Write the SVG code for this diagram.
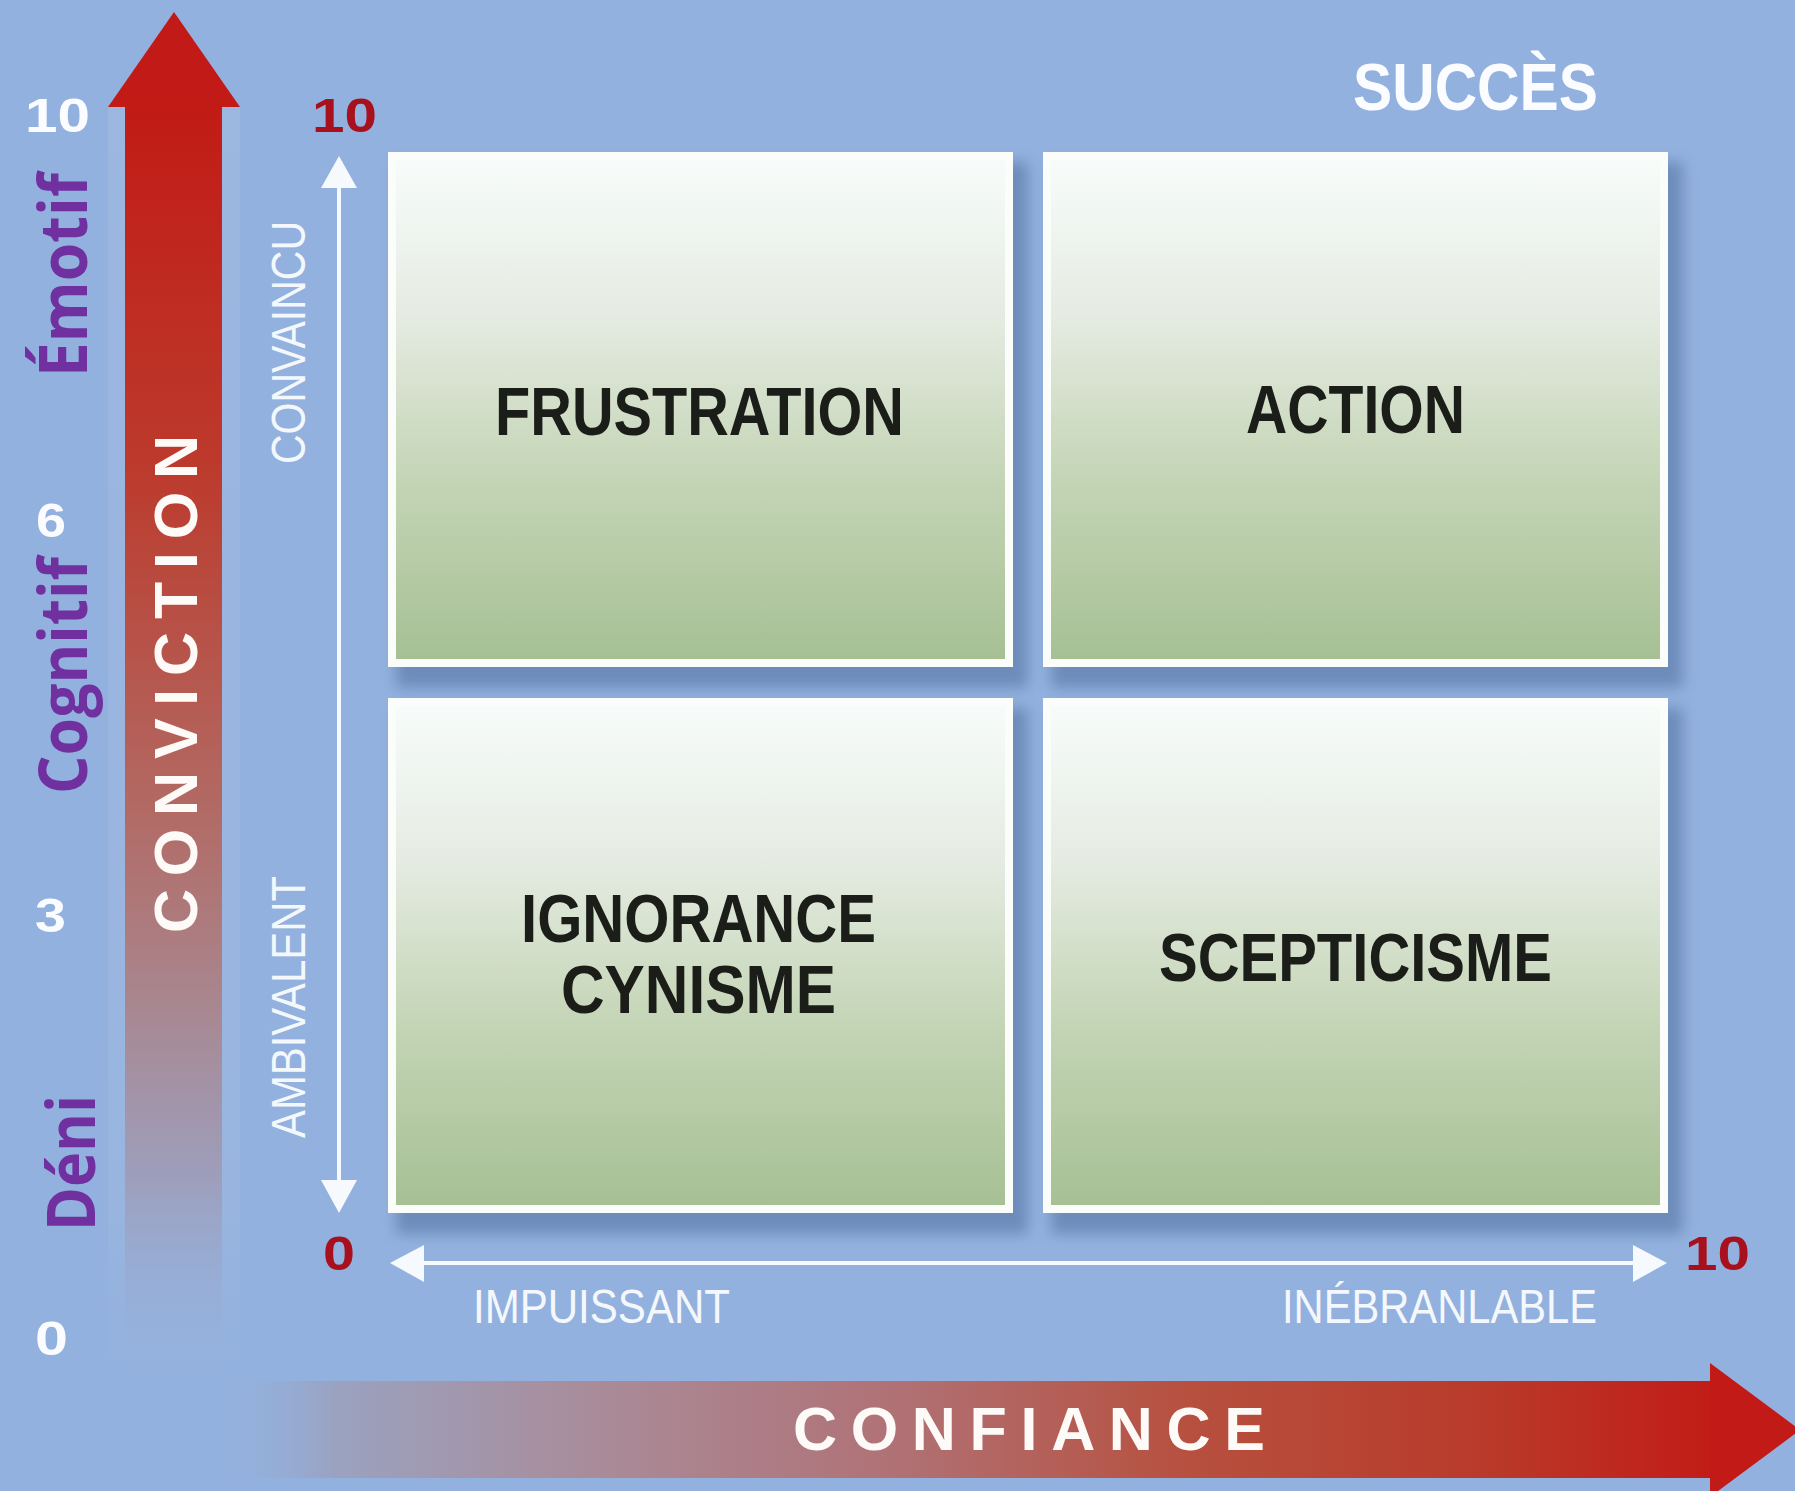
<svg xmlns="http://www.w3.org/2000/svg" width="1795" height="1491" viewBox="0 0 1795 1491">
  <defs>
    <linearGradient id="boxFill" x1="0" y1="0" x2="0" y2="1">
      <stop offset="0" stop-color="#f7fcfa"/>
      <stop offset="0.3" stop-color="#e6ece3"/>
      <stop offset="0.62" stop-color="#c6d6b8"/>
      <stop offset="1" stop-color="#a6c094"/>
    </linearGradient>
    <linearGradient id="vShaft" gradientUnits="userSpaceOnUse" x1="0" y1="107" x2="0" y2="1385">
      <stop offset="0" stop-color="#c21b16"/>
      <stop offset="0.28" stop-color="#bc3a2c"/>
      <stop offset="0.55" stop-color="#b26a64"/>
      <stop offset="0.7" stop-color="#a9868f"/>
      <stop offset="0.84" stop-color="#9e9cb8" stop-opacity="0.9"/>
      <stop offset="1" stop-color="#93b1de" stop-opacity="0"/>
    </linearGradient>
    <linearGradient id="vGlow" gradientUnits="userSpaceOnUse" x1="0" y1="107" x2="0" y2="1385">
      <stop offset="0" stop-color="#ffffff" stop-opacity="0.08"/>
      <stop offset="0.85" stop-color="#ffffff" stop-opacity="0.05"/>
      <stop offset="1" stop-color="#ffffff" stop-opacity="0"/>
    </linearGradient>
    <linearGradient id="hShaft" gradientUnits="userSpaceOnUse" x1="215" y1="0" x2="1712" y2="0">
      <stop offset="0" stop-color="#93b1de" stop-opacity="0"/>
      <stop offset="0.08" stop-color="#9aa2c0"/>
      <stop offset="0.25" stop-color="#a98c9a"/>
      <stop offset="0.45" stop-color="#b07276"/>
      <stop offset="0.65" stop-color="#b7503f"/>
      <stop offset="0.85" stop-color="#b93a2a"/>
      <stop offset="1" stop-color="#c21c17"/>
    </linearGradient>
    <filter id="shadow" x="-10%" y="-10%" width="130%" height="130%">
      <feGaussianBlur stdDeviation="7"/>
    </filter>
  </defs>
  <style>
    .bg { fill: #93b1de; }
    .frame { fill: #fbfdfb; }
    .inner { fill: url(#boxFill); }
    .shade { fill: #4f6e9e; opacity: 0.55; filter: url(#shadow); }
    .quad { font-family: "Liberation Sans", Arial, sans-serif; font-weight: 700; font-size: 68px; fill: #1b1d18; }
    .num { font-family: "Liberation Sans", Arial, sans-serif; font-weight: 700; font-size: 49px; }
    .numw { fill: #fafcff; }
    .numr { fill: #a8101e; }
    .axis { font-family: "Liberation Sans", Arial, sans-serif; font-weight: 700; font-size: 61px; fill: #fdfaf8; }
    .pole { font-family: "Liberation Sans", Arial, sans-serif; font-weight: 400; font-size: 49px; fill: #f4f8fd; }
    .level { font-family: "Open Sans", "Noto Sans", sans-serif; font-weight: 700; font-size: 66px; fill: #7030a0; }
    .wline { stroke: #f6f9fd; stroke-width: 4; fill: none; }
    .whead { fill: #f6f9fd; }
  </style>

  <rect class="bg" x="0" y="0" width="1795" height="1491"/>

  <!-- Big axes -->
  <g id="axis-conviction">
    <rect x="108" y="107" width="132" height="1280" fill="url(#vGlow)"/>
    <rect x="125" y="105" width="97" height="1280" fill="url(#vShaft)"/>
    <polygon points="174,12 240,107 108,107" fill="#c21a17"/>
    <text class="axis" transform="translate(197,933) rotate(-90)" textLength="498" lengthAdjust="spacing">CONVICTION</text>
  </g>
  <g id="axis-confiance">
    <rect x="215" y="1381" width="1497" height="97" fill="url(#hShaft)"/>
    <polygon points="1710,1363 1800,1430 1710,1497" fill="#c21a17"/>
    <text class="axis" x="793" y="1450" textLength="472" lengthAdjust="spacing">CONFIANCE</text>
  </g>

  <!-- Scale labels -->
  <g id="scale-left">
    <text class="num numw" x="25" y="132" textLength="65" lengthAdjust="spacingAndGlyphs">10</text>
    <text class="num numw" x="36" y="537" textLength="30" lengthAdjust="spacingAndGlyphs">6</text>
    <text class="num numw" x="35" y="932" textLength="31" lengthAdjust="spacingAndGlyphs">3</text>
    <text class="num numw" x="35" y="1355" textLength="33" lengthAdjust="spacingAndGlyphs">0</text>
  </g>
  <g id="levels">
    <text class="level" transform="translate(87,377) rotate(-90)" textLength="204" lengthAdjust="spacingAndGlyphs">Émotif</text>
    <text class="level" transform="translate(87,794) rotate(-90)" textLength="237" lengthAdjust="spacingAndGlyphs">Cognitif</text>
    <text class="level" transform="translate(95,1231) rotate(-90)" textLength="136" lengthAdjust="spacingAndGlyphs">Déni</text>
  </g>

  <!-- Inner axes (connectors) -->
  <g id="connectors">
    <line class="wline" x1="339" y1="185" x2="339" y2="1182"/>
    <polygon class="whead" points="339,156 357,188 321,188"/>
    <polygon class="whead" points="339,1213 357,1180 321,1180"/>
    <line class="wline" x1="420" y1="1263" x2="1636" y2="1263"/>
    <polygon class="whead" points="390,1263 424,1245 424,1282"/>
    <polygon class="whead" points="1667,1263 1633,1245 1633,1282"/>
  </g>
  <g id="inner-scale">
    <text class="num numr" x="312" y="132" textLength="65" lengthAdjust="spacingAndGlyphs">10</text>
    <text class="num numr" x="323" y="1270" textLength="32" lengthAdjust="spacingAndGlyphs">0</text>
    <text class="num numr" x="1685" y="1270" textLength="65" lengthAdjust="spacingAndGlyphs">10</text>
    <text class="pole" transform="translate(305,464) rotate(-90)" textLength="243" lengthAdjust="spacingAndGlyphs">CONVAINCU</text>
    <text class="pole" transform="translate(305,1138) rotate(-90)" textLength="262" lengthAdjust="spacingAndGlyphs">AMBIVALENT</text>
    <text class="pole" x="473" y="1323" textLength="257" lengthAdjust="spacingAndGlyphs">IMPUISSANT</text>
    <text class="pole" x="1282" y="1323" textLength="315" lengthAdjust="spacingAndGlyphs">INÉBRANLABLE</text>
    <text class="num numw" x="1353" y="110" style="font-size:66px" textLength="245" lengthAdjust="spacingAndGlyphs">SUCCÈS</text>
  </g>

  <!-- Quadrants -->
  <g id="frustration">
    <rect class="shade" x="396" y="162" width="632" height="526"/>
    <rect class="frame" x="388" y="152" width="625" height="515"/>
    <rect class="inner" x="396" y="160" width="609" height="499"/>
    <text class="quad" x="495" y="435" textLength="409" lengthAdjust="spacingAndGlyphs">FRUSTRATION</text>
  </g>
  <g id="action">
    <rect class="shade" x="1051" y="162" width="632" height="526"/>
    <rect class="frame" x="1043" y="152" width="625" height="515"/>
    <rect class="inner" x="1051" y="160" width="609" height="499"/>
    <text class="quad" x="1246" y="433" textLength="219" lengthAdjust="spacingAndGlyphs">ACTION</text>
  </g>
  <g id="ignorance-cynisme">
    <rect class="shade" x="396" y="708" width="632" height="526"/>
    <rect class="frame" x="388" y="698" width="625" height="515"/>
    <rect class="inner" x="396" y="706" width="609" height="499"/>
    <text class="quad" x="521" y="942" textLength="355" lengthAdjust="spacingAndGlyphs">IGNORANCE</text>
    <text class="quad" x="561" y="1013" textLength="275" lengthAdjust="spacingAndGlyphs">CYNISME</text>
  </g>
  <g id="scepticisme">
    <rect class="shade" x="1051" y="708" width="632" height="526"/>
    <rect class="frame" x="1043" y="698" width="625" height="515"/>
    <rect class="inner" x="1051" y="706" width="609" height="499"/>
    <text class="quad" x="1159" y="981" textLength="393" lengthAdjust="spacingAndGlyphs">SCEPTICISME</text>
  </g>
</svg>
